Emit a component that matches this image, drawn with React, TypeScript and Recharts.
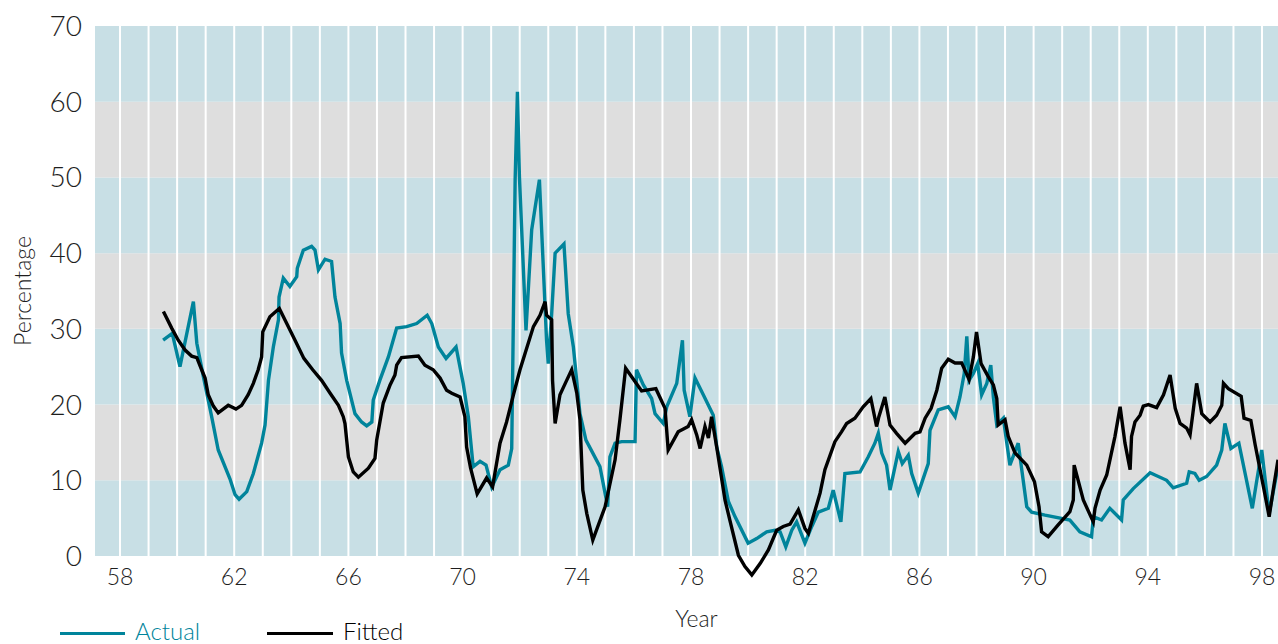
import { LineChart, Line, XAxis, YAxis, ReferenceArea, ReferenceLine } from "recharts";

// quarterly-ish readings (year, percent)
const actualYears = [
  59.51, 59.83, 60.1, 60.57, 60.69, 60.92, 61.21, 61.44, 61.85, 62.03, 62.17, 62.44, 62.67, 62.96, 63.08,
  63.2, 63.37, 63.55, 63.57, 63.72, 63.95, 64.19, 64.21, 64.42, 64.71, 64.83, 64.95, 65.18, 65.41, 65.53,
  65.71, 65.76, 65.94, 66.23, 66.46, 66.64, 66.82, 66.87, 67.1, 67.4, 67.69, 68.04, 68.39, 68.76, 68.92,
  69.15, 69.42, 69.77, 70.02, 70.2, 70.37, 70.61, 70.82, 71.02, 71.31, 71.6, 71.72, 71.78, 71.84, 71.92,
  71.99, 72.22, 72.42, 72.69, 72.94, 73.0, 73.12, 73.24, 73.55, 73.7, 73.88, 74.11, 74.32, 74.81, 75.08,
  75.16, 75.34, 75.57, 76.04, 76.09, 76.33, 76.62, 76.74, 77.03, 77.15, 77.5, 77.7, 77.76, 77.96, 78.14,
  78.43, 78.78, 78.9, 79.07, 79.31, 79.54, 80.0, 80.3, 80.65, 80.94, 81.12, 81.32, 81.53, 81.7, 81.99,
  82.23, 82.46, 82.81, 82.98, 83.25, 83.39, 83.92, 84.21, 84.44, 84.56, 84.68, 84.85, 84.97, 85.26, 85.4,
  85.61, 85.73, 85.96, 86.31, 86.37, 86.66, 87.01, 87.25, 87.42, 87.57, 87.66, 87.74, 87.89, 88.04, 88.18,
  88.36, 88.5, 88.59, 88.71, 88.94, 89.17, 89.46, 89.76, 89.93, 90.4, 91.27, 91.62, 92.03, 92.09, 92.38,
  92.67, 93.08, 93.14, 93.49, 94.08, 94.66, 94.89, 95.36, 95.45, 95.65, 95.8, 96.06, 96.41, 96.59, 96.7,
  96.91, 97.19, 97.66, 97.99, 98.25, 98.56,
];
const actualValues = [
  28.5, 29.4, 25.0, 33.6, 28.1, 23.7, 18.4, 14.0, 10.2, 8.1, 7.5, 8.5, 10.9, 14.9, 17.3,
  23.2, 27.6, 31.2, 34.2, 36.7, 35.6, 36.9, 38.0, 40.4, 40.9, 40.4, 37.8, 39.2, 38.9, 34.2,
  30.7, 26.8, 23.2, 18.8, 17.7, 17.2, 17.7, 20.6, 23.2, 26.3, 30.1, 30.3, 30.7, 31.8, 30.7,
  27.6, 26.1, 27.6, 22.8, 18.4, 11.8, 12.5, 12.0, 9.1, 11.4, 12.0, 14.2, 32.0, 49.7, 61.3,
  50.1, 29.8, 43.1, 49.7, 28.5, 25.4, 32.0, 40.0, 41.2, 32.0, 27.6, 18.8, 15.3, 11.8, 6.5,
  13.1, 14.9, 15.1, 15.1, 24.6, 22.6, 20.8, 18.8, 17.5, 19.7, 22.8, 28.5, 21.9, 18.4, 23.5,
  21.3, 18.6, 14.4, 11.8, 7.2, 5.2, 1.7, 2.3, 3.2, 3.4, 3.2, 1.2, 3.4, 4.5, 1.7,
  3.9, 5.8, 6.3, 8.7, 4.5, 10.9, 11.1, 13.1, 14.9, 16.2, 13.6, 12.0, 8.7, 13.8, 12.2,
  13.3, 10.9, 8.3, 12.2, 16.6, 19.3, 19.7, 18.4, 21.0, 24.1, 29.0, 23.2, 24.1, 25.4, 21.3,
  22.8, 25.2, 21.0, 17.3, 18.2, 12.0, 14.9, 6.5, 5.8, 5.4, 4.75, 3.2, 2.55, 5.2, 4.75,
  6.3, 4.75, 7.4, 8.9, 11.0, 10.0, 9.0, 9.6, 11.1, 10.9, 10.0, 10.5, 12.0, 14.0, 17.5,
  14.2, 14.9, 6.3, 14.0, 5.6, 11.8,
];

const fittedYears = [
  59.52, 59.81, 60.04, 60.28, 60.51, 60.69, 60.86, 60.98, 61.09, 61.27, 61.44, 61.79, 62.06, 62.26, 62.49,
  62.67, 62.84, 62.96, 63.0, 63.25, 63.58, 63.84, 64.13, 64.44, 64.75, 65.06, 65.36, 65.65, 65.82, 65.88,
  66.0, 66.17, 66.35, 66.7, 66.93, 66.99, 67.22, 67.46, 67.63, 67.69, 67.86, 68.45, 68.68, 68.97, 69.21,
  69.44, 69.62, 69.91, 70.08, 70.14, 70.28, 70.51, 70.84, 71.05, 71.31, 71.54, 71.78, 72.01, 72.48, 72.71,
  72.89, 72.94, 73.12, 73.15, 73.24, 73.41, 73.62, 73.82, 74.0, 74.11, 74.21, 74.35, 74.56, 74.99, 75.34,
  75.51, 75.71, 76.27, 76.77, 77.09, 77.2, 77.55, 77.9, 78.02, 78.2, 78.32, 78.49, 78.61, 78.72, 78.9,
  79.19, 79.36, 79.66, 79.89, 80.13, 80.42, 80.71, 81.0, 81.23, 81.47, 81.76, 81.99, 82.11, 82.52, 82.69,
  83.04, 83.27, 83.45, 83.74, 84.03, 84.3, 84.5, 84.58, 84.79, 84.97, 85.2, 85.5, 85.85, 86.02, 86.2,
  86.41, 86.61, 86.78, 87.01, 87.25, 87.48, 87.74, 87.89, 88.0, 88.16, 88.41, 88.59, 88.71, 88.76, 89.0,
  89.11, 89.35, 89.76, 90.03, 90.19, 90.28, 90.51, 90.86, 91.27, 91.39, 91.42, 91.74, 92.09, 92.15, 92.33,
  92.56, 92.85, 93.03, 93.2, 93.38, 93.43, 93.55, 93.73, 93.84, 94.02, 94.31, 94.55, 94.78, 94.96, 95.13,
  95.36, 95.48, 95.57, 95.71, 95.89, 96.18, 96.41, 96.59, 96.65, 96.82, 97.27, 97.37, 97.61, 97.76, 98.05,
  98.25, 98.4, 98.56,
];
const fittedValues = [
  32.3, 30.1, 28.5, 27.2, 26.4, 26.2, 24.6, 23.5, 21.3, 19.8, 18.9, 19.9, 19.4, 19.9, 21.3,
  22.8, 24.6, 26.3, 29.6, 31.6, 32.7, 30.7, 28.5, 26.1, 24.6, 23.2, 21.5, 19.9, 18.4, 17.5,
  13.1, 11.1, 10.4, 11.6, 12.9, 15.3, 20.2, 22.6, 23.9, 25.2, 26.2, 26.4, 25.2, 24.6, 23.5,
  21.9, 21.5, 21.0, 18.4, 14.4, 11.6, 8.2, 10.3, 9.15, 14.9, 17.7, 21.3, 24.6, 30.3, 31.8,
  33.6, 31.8, 31.2, 23.2, 17.5, 21.3, 23.0, 24.6, 21.5, 18.0, 8.7, 5.6, 2.1, 6.5, 12.7,
  18.0, 24.8, 21.8, 22.1, 19.5, 14.0, 16.4, 17.1, 18.0, 16.0, 14.2, 17.1, 15.6, 18.4, 14.4,
  7.4, 4.75, 0.1, -1.4, -2.5, -1.0, 0.8, 3.4, 3.9, 4.2, 6.1, 3.65, 3.0, 8.3, 11.4,
  15.1, 16.4, 17.5, 18.2, 19.7, 20.8, 17.1, 18.4, 21.0, 17.3, 16.2, 14.9, 16.2, 16.4, 18.2,
  19.5, 21.9, 24.8, 26.0, 25.5, 25.5, 23.3, 26.3, 29.6, 25.4, 23.7, 22.6, 20.8, 17.3, 18.0,
  15.8, 13.6, 12.0, 9.8, 6.5, 3.2, 2.55, 4.1, 5.85, 7.4, 12.0, 7.4, 4.5, 6.3, 8.7,
  10.7, 15.8, 19.7, 14.9, 11.4, 15.8, 17.7, 18.6, 19.8, 20.0, 19.6, 21.3, 23.9, 19.5, 17.5,
  16.9, 16.0, 18.6, 22.8, 18.8, 17.7, 18.6, 19.9, 22.8, 22.1, 21.1, 18.2, 17.9, 14.7, 9.15,
  5.2, 8.9, 12.7,
];

const yearTicks = [58, 62, 66, 70, 74, 78, 82, 86, 90, 94, 98];
const gridYears = [
  58, 59, 60, 61, 62, 63, 64, 65, 66, 67, 68, 69, 70, 71, 72, 73, 74, 75, 76, 77, 78,
  79, 80, 81, 82, 83, 84, 85, 86, 87, 88, 89, 90, 91, 92, 93, 94, 95, 96, 97, 98,
];
const valueTicks = [0, 10, 20, 30, 40, 50, 60, 70];

const actualData = actualYears.map((x, i) => ({ x, v: actualValues[i] }));
const fittedData = fittedYears.map((x, i) => ({ x, v: fittedValues[i] }));

const TEAL = "#00849b";
const BLUE_BAND = "#c8dfe5";
const GREY_BAND = "#dedede";

const YTitle = ({ viewBox }: any) => {
  const x = viewBox.x - 13;
  const y = viewBox.y + viewBox.height / 2;
  return (
    <text x={x} y={y} transform={`rotate(-90, ${x}, ${y})`} textAnchor="middle" dominantBaseline="central" fill="#1e1e1e" fontSize={23}>
      Percentage
    </text>
  );
};

const XTitle = ({ viewBox }: any) => (
  <text x={viewBox.x + viewBox.width / 2 + 10} y={viewBox.y + 62} textAnchor="middle" dominantBaseline="central" fill="#1e1e1e" fontSize={23}>
    Year
  </text>
);

export default function App() {
  return (
    <div
      style={{
        position: "absolute",
        left: 0,
        top: 0,
        width: 1278,
        height: 644,
        overflow: "hidden",
        background: "#fff",
        fontFamily: "Lato, 'Open Sans', sans-serif",
        fontWeight: 300,
      }}
    >
      <style>{`.recharts-line, .recharts-line * { clip-path: none !important; }`}</style>
      <LineChart width={1278} height={644} margin={{ top: 26, right: 0, left: 35, bottom: 58 }}>
        {valueTicks.slice(0, -1).map((v, i) => (
          <ReferenceArea
            key={`band-${v}`}
            y1={v}
            y2={valueTicks[i + 1]}
            fill={i % 2 === 0 ? BLUE_BAND : GREY_BAND}
            fillOpacity={1}
            stroke="none"
          />
        ))}
        {gridYears.map((yr) => (
          <ReferenceLine key={`yr-${yr}`} x={yr} stroke="#ffffff" strokeWidth={2} />
        ))}
        <XAxis
          type="number"
          dataKey="x"
          domain={[57.124, 98.56]}
          allowDataOverflow
          ticks={yearTicks}
          interval={0}
          axisLine={false}
          tickLine={false}
          tickSize={0}
          tickMargin={13}
          height={30}
          tick={{ fill: "#1e1e1e", fontSize: 23 }}
          label={<XTitle />}
        />
        <YAxis
          type="number"
          domain={[0, 70]}
          allowDataOverflow
          ticks={valueTicks}
          interval={0}
          axisLine={false}
          tickLine={false}
          tickSize={0}
          tickMargin={13}
          width={60}
          tick={{ fill: "#1e1e1e", fontSize: 28 }}
          label={<YTitle />}
        />
        <Line
          data={actualData}
          dataKey="v"
          type="linear"
          stroke={TEAL}
          strokeWidth={3.4}
          dot={false}
          activeDot={false}
          isAnimationActive={false}
        />
        <Line
          data={fittedData}
          dataKey="v"
          type="linear"
          stroke="#000000"
          strokeWidth={3.4}
          dot={false}
          activeDot={false}
          isAnimationActive={false}
        />
      </LineChart>
      <div style={{ position: "absolute", left: 60, top: 631.5, width: 65, height: 3.4, background: TEAL }} />
      <span style={{ position: "absolute", left: 135, top: 619, fontSize: 24, lineHeight: "24px", color: TEAL }}>Actual</span>
      <div style={{ position: "absolute", left: 267, top: 631.5, width: 66, height: 3.4, background: "#000" }} />
      <span style={{ position: "absolute", left: 343, top: 619, fontSize: 24, lineHeight: "24px", color: "#000" }}>Fitted</span>
    </div>
  );
}
